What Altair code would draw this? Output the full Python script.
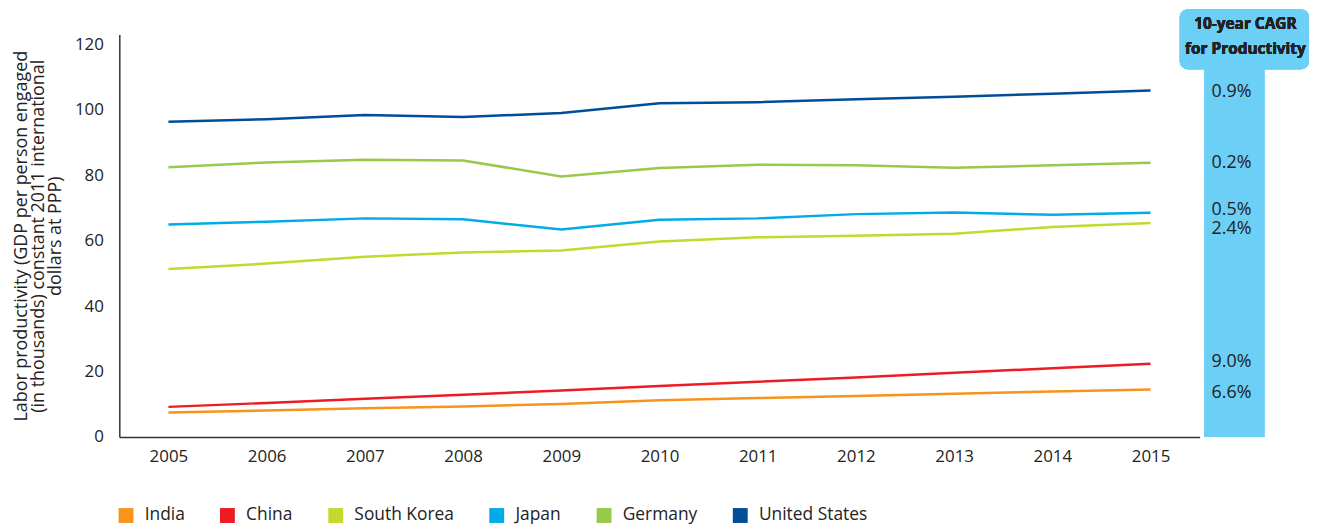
import altair as alt
import pandas as pd

years = list(range(2005, 2016))
countries = ["India", "China", "South Korea", "Japan", "Germany", "United States"]
colors = ["#F7941D", "#ED1C24", "#C5D92D", "#00ABE6", "#97C94B", "#004D99"]

india = [7.5, 8.1, 8.8, 9.3, 10.1, 11.2, 11.9, 12.5, 13.2, 13.9, 14.5]
china = [9.2, 10.4, 11.7, 12.9, 14.2, 15.6, 16.9, 18.2, 19.6, 21.0, 22.4]
korea = [51.3, 53.0, 55.1, 56.4, 57.0, 59.7, 61.0, 61.5, 62.1, 64.2, 65.4]
japan = [64.9, 65.8, 66.8, 66.5, 63.4, 66.4, 66.8, 68.1, 68.6, 67.9, 68.5]
germany = [82.4, 83.9, 84.7, 84.5, 79.6, 82.2, 83.2, 83.0, 82.3, 83.0, 83.8]
usa = [96.3, 97.1, 98.4, 97.8, 99.0, 102.0, 102.3, 103.2, 104.0, 104.9, 105.9]

cagr_labels = ["0.9%", "0.2%", "0.5%", "2.4%", "9.0%", "6.6%"]
cagr_label_pos = [105.5, 83.6, 69.3, 63.5, 22.8, 13.4]

y_ticks = [0, 20, 40, 60, 80, 100, 120]
y_title = ["Labor productivity (GDP per person engaged",
           "(in thousands) constant 2011 international",
           "dollars at PPP)"]

series = [india, china, korea, japan, germany, usa]
rows = []
for name, vals in zip(countries, series):
    for yr, v in zip(years, vals):
        rows.append({"year": str(yr), "country": name, "value": v})
df = pd.DataFrame(rows)

lab_df = pd.DataFrame({"label": cagr_labels, "value": cagr_label_pos})

FONT = "Open Sans"
TXT = "#222222"
BOX = "#6CCFF6"
W, H = 1087, 405
yscale = alt.Scale(domain=[0, 123], nice=False)

lines = alt.Chart(df).mark_line(strokeWidth=2.5).encode(
    x=alt.X("year:O", title=None,
            scale=alt.Scale(type="point", padding=0.5),
            axis=alt.Axis(labelAngle=0, ticks=False, domainColor="#333333",
                          domainWidth=1.5, labelPadding=12, labelFontSize=17,
                          labelColor=TXT, labelFont=FONT)),
    y=alt.Y("value:Q", scale=yscale,
            axis=alt.Axis(values=y_ticks, grid=False, ticks=False, domainColor="#333333",
                          domainWidth=1.5, labelPadding=16, labelFontSize=17,
                          labelColor=TXT, labelFont=FONT, title=y_title,
                          titleFontSize=18, titleFontWeight="normal", titleColor=TXT,
                          titleFont=FONT, titlePadding=10, titleLineHeight=17)),
    color=alt.Color("country:N", sort=countries,
                    scale=alt.Scale(domain=countries, range=colors),
                    legend=alt.Legend(title=None, orient="none", direction="horizontal",
                                      legendX=-2, legendY=475, symbolType="square",
                                      symbolSize=56, symbolStrokeWidth=7.5,
                                      labelFontSize=17.5, labelFont=FONT, labelColor=TXT,
                                      labelOffset=10, columnPadding=24)),
).properties(width=W, height=H)

base = alt.Chart(lab_df)
column = base.mark_rect(color=BOX).encode(
    x=alt.value(0), x2=alt.value(60), y=alt.value(35), y2=alt.value(H)
)
header = base.mark_rect(color=BOX, cornerRadius=8).encode(
    x=alt.value(-25), x2=alt.value(105), y=alt.value(-25), y2=alt.value(35)
)
head_text = base.mark_text(text=["10-year CAGR", "for Productivity"], fontSize=15.5,
                           fontWeight="bold", font=FONT, color=TXT, lineHeight=25,
                           align="center", baseline="middle").encode(
    x=alt.value(41), y=alt.value(-10)
)
pct = base.mark_text(align="left", baseline="middle", fontSize=18, font=FONT,
                     color=TXT).encode(
    x=alt.value(7),
    y=alt.Y("value:Q", scale=yscale, axis=None),
    text="label:N",
)
right = alt.layer(column, header, head_text, pct).properties(width=60, height=H)

chart = alt.hconcat(lines, right, spacing=5, bounds="flush").resolve_scale(
    y="shared"
).configure_view(stroke=None).properties(
    padding={"left": 4, "top": 0, "right": 0, "bottom": 0}
)

chart.save("out.html", embed_options={"renderer": "svg", "actions": False})
